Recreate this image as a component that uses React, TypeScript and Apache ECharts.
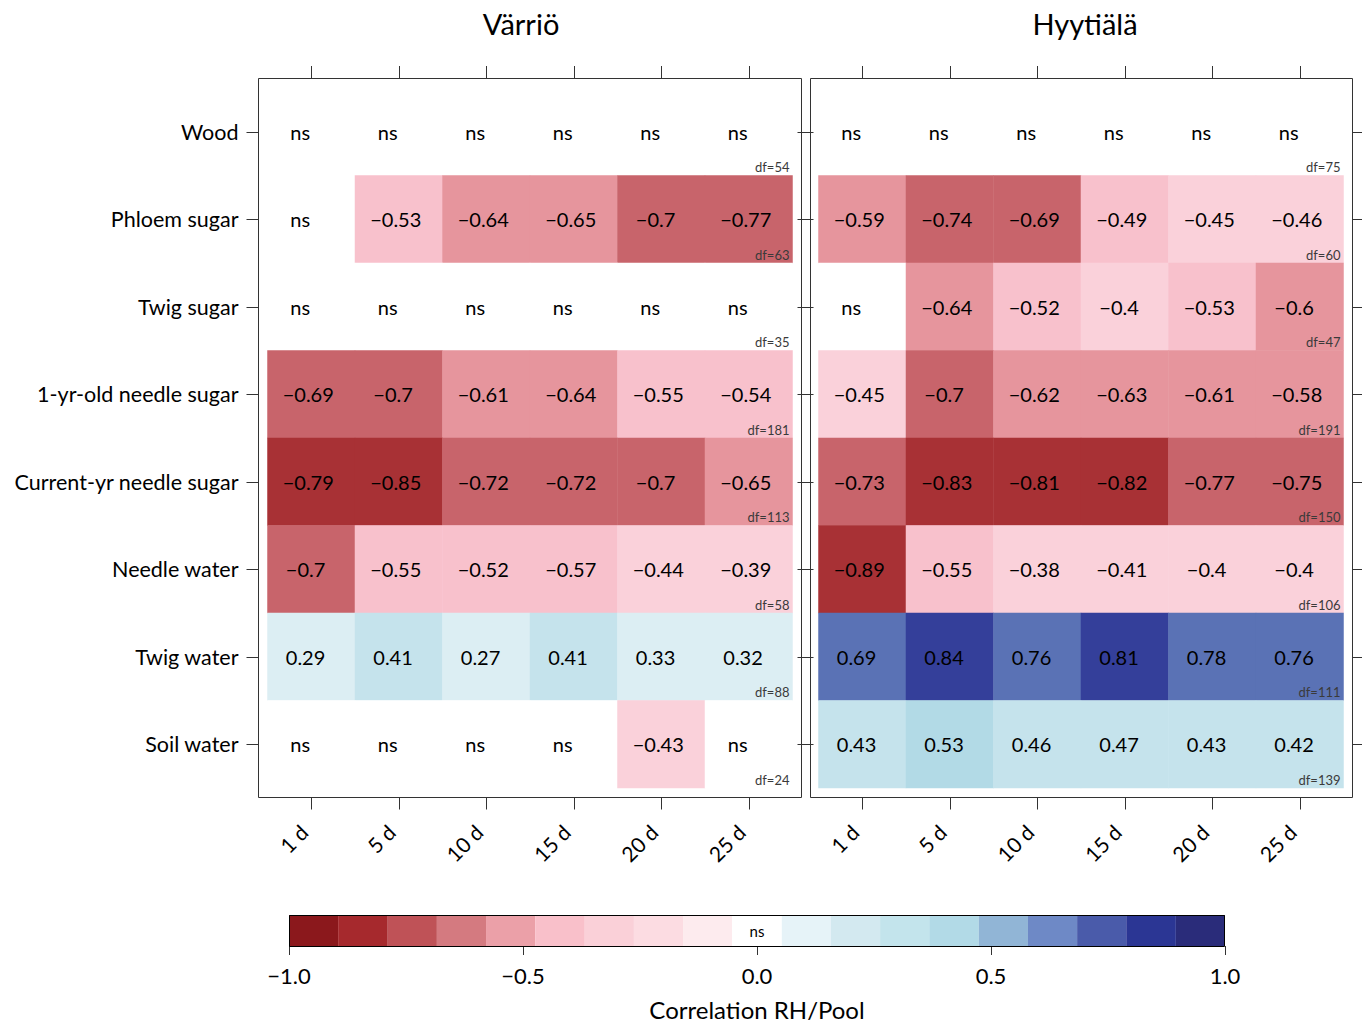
import React, { useEffect, useRef } from "react";
import * as echarts from "echarts";

const LAGS = ["1 d", "5 d", "10 d", "15 d", "20 d", "25 d"];
const POOLS = [
  "Wood",
  "Phloem sugar",
  "Twig sugar",
  "1-yr-old needle sugar",
  "Current-yr needle sugar",
  "Needle water",
  "Twig water",
  "Soil water",
];

// null = ns (not significant)
const VARRIO: (number | null)[][] = [
  [null, null, null, null, null, null],
  [null, -0.53, -0.64, -0.65, -0.7, -0.77],
  [null, null, null, null, null, null],
  [-0.69, -0.7, -0.61, -0.64, -0.55, -0.54],
  [-0.79, -0.85, -0.72, -0.72, -0.7, -0.65],
  [-0.7, -0.55, -0.52, -0.57, -0.44, -0.39],
  [0.29, 0.41, 0.27, 0.41, 0.33, 0.32],
  [null, null, null, null, -0.43, null],
];
const VARRIO_DF = [54, 63, 35, 181, 113, 58, 88, 24];

const HYYTIALA: (number | null)[][] = [
  [null, null, null, null, null, null],
  [-0.59, -0.74, -0.69, -0.49, -0.45, -0.46],
  [null, -0.64, -0.52, -0.4, -0.53, -0.6],
  [-0.45, -0.7, -0.62, -0.63, -0.61, -0.58],
  [-0.73, -0.83, -0.81, -0.82, -0.77, -0.75],
  [-0.89, -0.55, -0.38, -0.41, -0.4, -0.4],
  [0.69, 0.84, 0.76, 0.81, 0.78, 0.76],
  [0.43, 0.53, 0.46, 0.47, 0.43, 0.42],
];
const HYYTIALA_DF = [75, 60, 47, 191, 150, 106, 111, 139];

const BREAKS = [
  -1, -0.895, -0.789, -0.684, -0.579, -0.474, -0.368, -0.263, -0.158, -0.053,
  0.053, 0.158, 0.263, 0.368, 0.474, 0.579, 0.684, 0.789, 0.895, 1,
];
const CELL_COLORS = [
  "#8E2024", "#A83135", "#C8646B", "#E6959D", "#F8C1CC", "#FAD1DA", "#FCDDE3",
  "#FDE8EC", "#FEF2F4", "#FFFFFF", "#EEF7FA", "#E5F2F6", "#DCEEF3", "#C5E3EC",
  "#B2DAE6", "#8AA7D2", "#5A72B5", "#343F9A", "#2A2D7C",
];
const CBAR_COLORS = [
  "#8B181C", "#A6292D", "#BF5257", "#D47A80", "#EBA0A8", "#F9C0CA", "#FAD0D8",
  "#FCDCE2", "#FDEBEE", "#FFFFFF", "#E6F3F8", "#D3E9F0", "#C3E4EC", "#B2DAE7",
  "#91B5D6", "#6E89C6", "#4A5BAA", "#2B3694", "#2A2C7A",
];

const FONT = "Lato";
const fmt = (v: number) => String(v).replace("-", "\u2212");

function heatData(m: (number | null)[][]) {
  const out: any[] = [];
  m.forEach((row, r) =>
    row.forEach((v, c) => {
      const txt = v === null ? "ns" : fmt(v);
      // labels are centred as if padded to a common width
      const dx = -3 - (5 - txt.length) * 2.7;
      out.push({ value: [c, r, v === null ? 0 : v], ns: v === null, label: { offset: [dx, 0] } });
    })
  );
  return out;
}

export default function App() {
  const ref = useRef<HTMLDivElement>(null);
  useEffect(() => {
    document.body.style.margin = "0";
    document.body.style.overflow = "hidden";
    const chart = echarts.init(ref.current!, null, { renderer: "svg" });

    const tick = { show: true, alignWithLabel: true, length: 12, lineStyle: { color: "#333", width: 1 } };
    const grids = [
      { left: 267.5, top: 88, width: 525, height: 700 },
      { left: 818.5, top: 88, width: 525, height: 700 },
      { left: 289, top: 915, width: 936, height: 31 },
    ];

    const xAxes: any[] = [];
    const yAxes: any[] = [];
    [0, 1].forEach((g) => {
      xAxes.push({
        type: "category", gridIndex: g, data: LAGS, position: "bottom", offset: 9.5,
        axisLine: { show: false }, axisTick: tick,
        axisLabel: { rotate: 45, margin: 38, verticalAlign: "bottom", fontSize: 21, fontFamily: FONT, color: "#000" },
      });
      xAxes.push({
        type: "category", gridIndex: g, data: LAGS, position: "top", offset: 10,
        axisLine: { show: false }, axisTick: tick, axisLabel: { show: false },
      });
      yAxes.push({
        type: "category", gridIndex: g, data: POOLS, inverse: true, position: "left", offset: 9,
        axisLine: { show: false }, axisTick: tick,
        axisLabel: { show: g === 0, margin: 20, fontSize: 21.5, fontFamily: FONT, color: "#000" },
      });
      yAxes.push({
        type: "category", gridIndex: g, data: POOLS, inverse: true, position: "right", offset: 9,
        axisLine: { show: false }, axisTick: tick, axisLabel: { show: false },
      });
    });
    xAxes.push({
      type: "value", gridIndex: 2, min: -1, max: 1, interval: 0.5,
      axisLine: { show: false }, splitLine: { show: false },
      axisTick: { show: true, length: 9, lineStyle: { color: "#333" } },
      axisLabel: { margin: 18, fontSize: 22, fontFamily: FONT, color: "#000", formatter: (v: number) => v.toFixed(1).replace("-", "\u2212") },
      name: "Correlation RH/Pool", nameLocation: "middle", nameGap: 51,
      nameTextStyle: { fontSize: 24, fontFamily: FONT, color: "#000" },
    });
    yAxes.push({ type: "value", gridIndex: 2, min: 0, max: 1, show: false });

    const heatLabel = {
      show: true, fontSize: 20, fontFamily: FONT, color: "#000",
      formatter: (p: any) => (p.data.ns ? "ns" : fmt(p.value[2])),
    };

    const dfSeries = (g: number, dfs: number[]) => ({
      type: "custom", xAxisIndex: g * 2, yAxisIndex: g * 2, z: 5,
      data: dfs.map((d, r) => [5, r, d]),
      renderItem: (params: any, api: any) => {
        const p = api.coord([api.value(0), api.value(1)]);
        const s = api.size([1, 1]);
        return {
          type: "text", x: p[0] + s[0] / 2 - 3, y: p[1] + s[1] / 2 - 2,
          style: { text: "df=" + api.value(2), align: "right", verticalAlign: "bottom", fontSize: 13, fontFamily: FONT, fill: "#3a3a3a" },
        };
      },
    });

    const cbarData = CBAR_COLORS.map((_, i) => [BREAKS[i], BREAKS[i + 1], i]);
    const titleStyle = { fontSize: 29, fontWeight: "normal", fontFamily: FONT, color: "#000" };

    chart.setOption({
      animation: false,
      backgroundColor: "#fff",
      title: [
        { text: "Värriö", left: 516, top: 4, textAlign: "center", textStyle: titleStyle },
        { text: "Hyytiälä", left: 1080, top: 4, textAlign: "center", textStyle: titleStyle },
      ],
      grid: grids,
      xAxis: xAxes,
      yAxis: yAxes,
      visualMap: {
        type: "piecewise", show: false, dimension: 2, seriesIndex: [0, 1],
        pieces: CELL_COLORS.map((c, i) => (i === CELL_COLORS.length - 1
          ? { gte: BREAKS[i], lte: BREAKS[i + 1], color: c }
          : { gte: BREAKS[i], lt: BREAKS[i + 1], color: c })),
      },
      series: [
        { type: "heatmap", xAxisIndex: 0, yAxisIndex: 0, data: heatData(VARRIO), label: heatLabel, emphasis: { disabled: true } },
        { type: "heatmap", xAxisIndex: 2, yAxisIndex: 2, data: heatData(HYYTIALA), label: heatLabel, emphasis: { disabled: true } },
        dfSeries(0, VARRIO_DF),
        dfSeries(1, HYYTIALA_DF),
        {
          type: "custom", xAxisIndex: 4, yAxisIndex: 4, data: cbarData,
          encode: { x: [0, 1] },
          renderItem: (params: any, api: any) => {
            const a = api.coord([api.value(0), 1]);
            const b = api.coord([api.value(1), 0]);
            const idx = api.value(2);
            const children: any[] = [
              { type: "rect", shape: { x: a[0], y: a[1], width: b[0] - a[0], height: b[1] - a[1] }, style: { fill: CBAR_COLORS[idx] } },
            ];
            if (idx === 9) {
              children.push({
                type: "text", x: (a[0] + b[0]) / 2, y: (a[1] + b[1]) / 2,
                style: { text: "ns", align: "center", verticalAlign: "middle", fontSize: 15, fontFamily: FONT, fill: "#000" },
              });
            }
            return { type: "group", children };
          },
        },
      ],
      graphic: [
        { type: "rect", z: 100, shape: { x: 258.5, y: 78.5, width: 543, height: 719 }, style: { fill: "none", stroke: "#333", lineWidth: 1 } },
        { type: "rect", z: 100, shape: { x: 810.5, y: 78.5, width: 542, height: 719 }, style: { fill: "none", stroke: "#333", lineWidth: 1 } },
        { type: "rect", z: 100, shape: { x: 289.5, y: 915.5, width: 935, height: 31 }, style: { fill: "none", stroke: "#000", lineWidth: 1 } },
      ],
    });
    return () => chart.dispose();
  }, []);
  return <div ref={ref} style={{ width: 1362, height: 1023 }} />;
}
